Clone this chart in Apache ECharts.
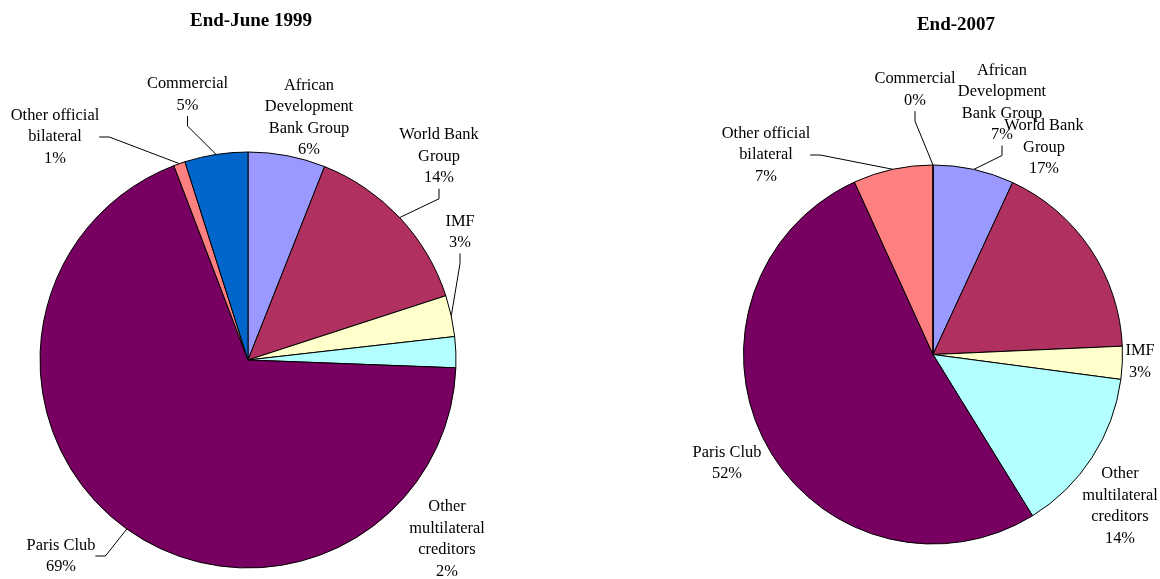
<!DOCTYPE html>
<html>
<head>
<meta charset="utf-8">
<script src="https://cdn.jsdelivr.net/npm/echarts@6/dist/echarts.min.js"></script>
<style>
html,body{margin:0;padding:0;background:#fff;}
#chart{width:1160px;height:579px;}
</style>
</head>
<body>
<div id="chart"></div>
<script>
// ---- data ----
var categories = [
  'African\nDevelopment\nBank Group',
  'World Bank\nGroup',
  'IMF',
  'Other\nmultilateral\ncreditors',
  'Paris Club',
  'Other official\nbilateral',
  'Commercial'
];
var titles = ['End-June 1999', 'End-2007'];
var values1999 = [6.0, 14.0, 3.2, 2.4, 68.6, 0.9, 4.9];
var values2007 = [6.9, 17.4, 2.8, 14.1, 52.0, 6.8, 0.0];

// ---- styles / layout ----
var colors = ['#9999FF', '#B03060', '#FFFFCC', '#B3FFFF', '#770060', '#FF8080', '#0066CC'];
var leader1999 = [false, true, true, false, true, true, true];
var leader2007 = [true, false, false, false, false, true, true];
var labelPos1999 = [[309,117.5],[439,156.5],[460,232],[447,539],[61,556],[55,137],[187.5,94.5]];
var labelPos2007 = [[1002,102.5],[1044,147.5],[1140,361.7],[1120,506],[727,463.3],[766,155],[915,89.7]];
var labelPositions = [labelPos1999, labelPos2007];

var font = 'Liberation Serif, Times New Roman, serif';

function buildData(vals, leaders) {
  return vals.map(function (v, i) {
    return {
      name: categories[i],
      value: v,
      itemStyle: { color: colors[i] },
      labelLine: { show: leaders[i] }
    };
  });
}

function pieSeries(vals, leaders, center, radius, idx) {
  return {
    type: 'pie',
    center: center,
    radius: radius,
    startAngle: 90,
    clockwise: true,
    avoidLabelOverlap: false,
    animation: false,
    silent: true,
    itemStyle: { borderColor: '#000', borderWidth: 1 },
    label: {
      show: true,
      position: 'outside',
      fontFamily: font,
      fontSize: 16.4,
      lineHeight: 21.5,
      color: '#000',
      align: 'center',
      formatter: function (p) { return p.name + '\n' + Math.round(p.percent) + '%'; }
    },
    labelLine: { show: true, length: 10, length2: 10, smooth: false, lineStyle: { color: '#000', width: 1 } },
    labelLayout: function (params) {
      var pos = labelPositions[idx][params.dataIndex];
      return { x: pos[0], y: pos[1], align: 'center', verticalAlign: 'middle' };
    },
    data: buildData(vals, leaders)
  };
}

var chart = echarts.init(document.getElementById('chart'), null, { renderer: 'canvas' });
chart.setOption({
  backgroundColor: '#fff',
  animation: false,
  title: [
    { text: titles[0], left: 246, top: 7, textAlign: 'center',
      textStyle: { fontFamily: font, fontSize: 19, fontWeight: 'bold', color: '#000' } },
    { text: titles[1], left: 951, top: 11, textAlign: 'center',
      textStyle: { fontFamily: font, fontSize: 19, fontWeight: 'bold', color: '#000' } }
  ],
  series: [
    pieSeries(values1999, leader1999, [248, 360], 208, 0),
    pieSeries(values2007, leader2007, [933, 354.5], 189.5, 1)
  ]
});
</script>
</body>
</html>
